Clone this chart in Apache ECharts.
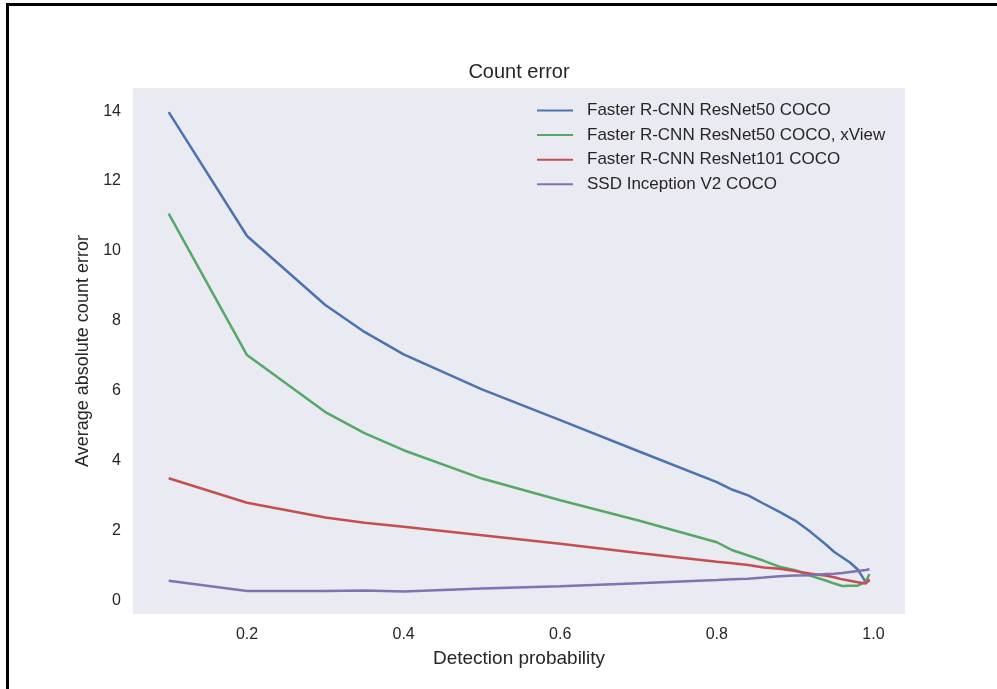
<!DOCTYPE html>
<html>
<head>
<meta charset="utf-8">
<script src="https://cdn.jsdelivr.net/npm/echarts@6/dist/echarts.min.js"></script>
<style>
  html, body { margin: 0; padding: 0; background: #fff; }
  #main { width: 997px; height: 689px; }
</style>
</head>
<body>
<div id="main"></div>
<script>
// detection probability thresholds
var probs = [0.1, 0.2, 0.3, 0.35, 0.4, 0.5, 0.6, 0.7, 0.8, 0.82, 0.84, 0.86, 0.88, 0.9, 0.92, 0.94, 0.95, 0.96, 0.97, 0.98, 0.99, 0.995];

var seriesNames = [
    "Faster R-CNN ResNet50 COCO",
    "Faster R-CNN ResNet50 COCO, xView",
    "Faster R-CNN ResNet101 COCO",
    "SSD Inception V2 COCO"
];

var rcnn50 = [13.97, 10.43, 8.46, 7.69, 7.05, 6.05, 5.17, 4.28, 3.4, 3.18, 3.02, 2.78, 2.55, 2.3, 1.97, 1.6, 1.4, 1.25, 1.1, 0.9, 0.55, 0.58];
var rcnn50xview = [11.07, 7.03, 5.4, 4.8, 4.31, 3.5, 2.88, 2.3, 1.68, 1.45, 1.3, 1.15, 0.98, 0.88, 0.72, 0.58, 0.5, 0.43, 0.44, 0.44, 0.55, 0.77];
var rcnn101 = [3.51, 2.81, 2.39, 2.24, 2.12, 1.88, 1.64, 1.37, 1.12, 1.08, 1.03, 0.96, 0.92, 0.86, 0.78, 0.72, 0.68, 0.62, 0.58, 0.54, 0.5, 0.62];
var ssdInception = [0.58, 0.29, 0.29, 0.3, 0.27, 0.36, 0.42, 0.51, 0.6, 0.62, 0.64, 0.67, 0.71, 0.73, 0.74, 0.77, 0.78, 0.8, 0.83, 0.86, 0.89, 0.91];

var colors = ["#4C72B0", "#55A868", "#C44E52", "#8172B2"];
var allValues = [rcnn50, rcnn50xview, rcnn101, ssdInception];

var fontFamily = "'Liberation Sans', Arial, sans-serif";
var textColor = "#262626";

var myChart = echarts.init(document.getElementById("main"));

// series
var series = [];
seriesNames.forEach(function (name, indx) {
    series.push({
        name: name,
        type: "line",
        symbol: "none",
        silent: true,
        data: probs.map(function (p, i) {
            return [p, allValues[indx][i]];
        }),
        lineStyle: { color: colors[indx], width: 2.5 },
        itemStyle: { color: colors[indx] }
    });
});

var option = {
    animation: false,
    backgroundColor: "#ffffff",
    title: {
        text: "Count error",
        left: 514,
        top: 57,
        textAlign: "center",
        textStyle: { fontFamily: fontFamily, fontSize: 20, fontWeight: "normal", color: textColor }
    },
    grid: {
        left: 133,
        right: 92,
        top: 88,
        bottom: 75,
        show: true,
        backgroundColor: "#EAEAF2",
        borderWidth: 0
    },
    legend: {
        data: seriesNames,
        orient: "vertical",
        left: 532,
        top: 97,
        itemWidth: 36,
        itemHeight: 16,
        itemGap: 7.6,
        icon: "path://M0,7 L36,7 L36,9 L0,9 Z",
        textStyle: {
            fontFamily: fontFamily,
            fontSize: 17,
            color: textColor,
            lineHeight: 17,
            padding: [0, 0, 0, 9]
        }
    },
    xAxis: {
        type: "value",
        min: 0.0544,
        max: 1.0403,
        splitNumber: 5,
        name: "Detection probability",
        nameLocation: "middle",
        nameGap: 35.5,
        nameTextStyle: { fontFamily: fontFamily, fontSize: 19, color: textColor },
        axisLine: { show: false },
        axisTick: { show: false },
        splitLine: { show: false },
        axisLabel: {
            showMinLabel: false,
            showMaxLabel: false,
            margin: 13,
            fontFamily: fontFamily,
            fontSize: 16,
            color: textColor,
            formatter: function (value) {
                return value.toFixed(1);
            }
        }
    },
    yAxis: {
        type: "value",
        min: -0.37,
        max: 14.66,
        splitNumber: 7,
        name: "Average absolute count error",
        nameLocation: "middle",
        nameGap: 38,
        nameTextStyle: { fontFamily: fontFamily, fontSize: 18, color: textColor },
        axisLine: { show: false },
        axisTick: { show: false },
        splitLine: { show: false },
        axisLabel: {
            showMinLabel: false,
            showMaxLabel: false,
            margin: 12,
            fontFamily: fontFamily,
            fontSize: 16,
            color: textColor
        }
    },
    // figure frame, partly cut off on the right and bottom
    graphic: [{
        type: "rect",
        shape: { x: 7.5, y: 4.5, width: 1100, height: 800 },
        style: { fill: null, stroke: "#000", lineWidth: 3 },
        silent: true
    }],
    series: series
};

myChart.setOption(option, true);
</script>
</body>
</html>
